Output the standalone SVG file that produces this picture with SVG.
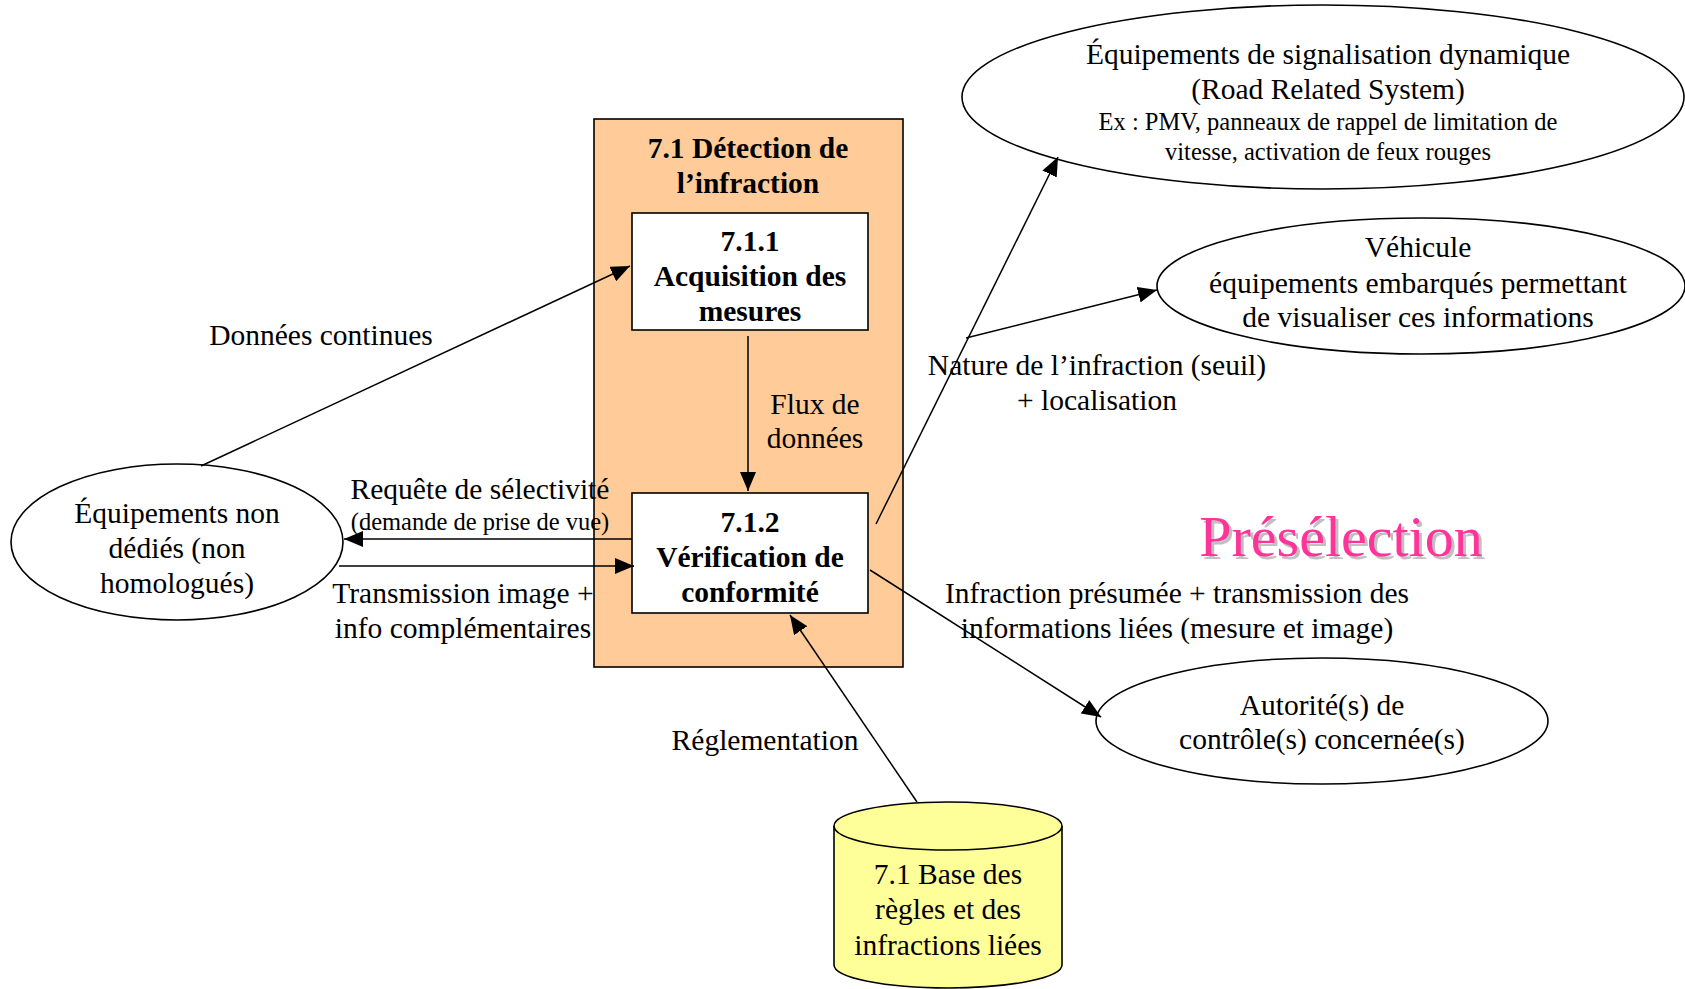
<svg xmlns="http://www.w3.org/2000/svg" width="1685" height="989" viewBox="0 0 1685 989">
  <style>
    .t { font-family: "Liberation Serif", "Times New Roman", serif; font-size: 29.5px; fill: #000; text-anchor: middle; }
    .s { font-size: 24.5px; }
    .b { font-weight: bold; }
    .arrow { fill: none; stroke: #000; stroke-width: 1.5; marker-end: url(#head); }
    .shape { stroke: #000; stroke-width: 1.6; }
    .pink { font-family: "Liberation Serif", "Times New Roman", serif; font-size: 58px; text-anchor: middle; }
  </style>
  <defs>
    <marker id="head" markerUnits="userSpaceOnUse" markerWidth="20" markerHeight="16" refX="19" refY="8" orient="auto">
      <path d="M0,0 L19,8 L0,16 z" fill="#000"/>
    </marker>
  </defs>

  <rect width="1685" height="989" fill="#fff"/>

  <!-- process container -->
  <g id="detection">
    <rect class="shape" x="594" y="119" width="309" height="548" fill="#FFCC99"/>
    <text class="t b" x="748" y="158">7.1 Détection de</text>
    <text class="t b" x="748" y="193">l’infraction</text>
  </g>

  <g id="acquisition">
    <rect class="shape" x="632" y="213" width="236" height="117" fill="#fff"/>
    <text class="t b" x="750" y="251">7.1.1</text>
    <text class="t b" x="750" y="286">Acquisition des</text>
    <text class="t b" x="750" y="321">mesures</text>
  </g>

  <g id="verification">
    <rect class="shape" x="632" y="493" width="236" height="120" fill="#fff"/>
    <text class="t b" x="750" y="532">7.1.2</text>
    <text class="t b" x="750" y="567">Vérification de</text>
    <text class="t b" x="750" y="602">conformité</text>
  </g>

  <g id="equipements-non-dedies">
    <ellipse class="shape" cx="177" cy="542" rx="166" ry="78" fill="#fff"/>
    <text class="t" x="177" y="523">Équipements non</text>
    <text class="t" x="177" y="558">dédiés (non</text>
    <text class="t" x="177" y="593">homologués)</text>
  </g>

  <g id="signalisation">
    <ellipse class="shape" cx="1323" cy="97" rx="361" ry="92" fill="#fff"/>
    <text class="t" x="1328" y="64">Équipements de signalisation dynamique</text>
    <text class="t" x="1328" y="99">(Road Related System)</text>
    <text class="t s" x="1328" y="130">Ex : PMV, panneaux de rappel de limitation de</text>
    <text class="t s" x="1328" y="160">vitesse, activation de feux rouges</text>
  </g>

  <g id="vehicule">
    <ellipse class="shape" cx="1421" cy="286" rx="264" ry="68" fill="#fff"/>
    <text class="t" x="1418" y="257">Véhicule</text>
    <text class="t" x="1418" y="293">équipements embarqués permettant</text>
    <text class="t" x="1418" y="327">de visualiser ces informations</text>
  </g>

  <g id="autorites">
    <ellipse class="shape" cx="1322" cy="721" rx="226" ry="63" fill="#fff"/>
    <text class="t" x="1322" y="715">Autorité(s) de</text>
    <text class="t" x="1322" y="749">contrôle(s) concernée(s)</text>
  </g>

  <g id="base-regles">
    <path class="shape" d="M834,826 L834,965 A114,23 0 0 0 1062,965 L1062,826" fill="#FFFF99"/>
    <ellipse class="shape" cx="948" cy="826" rx="114" ry="24" fill="#FFFF99"/>
    <text class="t" x="948" y="884">7.1 Base des</text>
    <text class="t" x="948" y="919">règles et des</text>
    <text class="t" x="948" y="955">infractions liées</text>
  </g>

  <g id="title">
    <text class="pink" x="1344" y="559" fill="#C0C0C0">Présélection</text>
    <text class="pink" x="1341" y="556" fill="#FF3399">Présélection</text>
  </g>

  <!-- flows -->
  <g id="connectors">
    <line class="arrow" x1="201" y1="466" x2="630" y2="266"/>
    <line class="arrow" x1="748" y1="336" x2="748" y2="491"/>
    <line class="arrow" x1="632" y1="539" x2="344" y2="539"/>
    <line class="arrow" x1="339" y1="566" x2="634" y2="566"/>
    <line class="arrow" x1="876" y1="524" x2="1058" y2="157"/>
    <line class="arrow" x1="966" y1="338" x2="1157" y2="290"/>
    <line class="arrow" x1="870" y1="570" x2="1101" y2="717"/>
    <line class="arrow" x1="917" y1="802" x2="790" y2="615"/>
  </g>

  <g id="labels">
    <text class="t" x="321" y="345">Données continues</text>
    <text class="t" x="815" y="414">Flux de</text>
    <text class="t" x="815" y="448">données</text>
    <text class="t" x="480" y="499">Requête de sélectivité</text>
    <text class="t s" x="480" y="530">(demande de prise de vue)</text>
    <text class="t" x="463" y="603">Transmission image +</text>
    <text class="t" x="463" y="638">info complémentaires</text>
    <text class="t" x="1097" y="375">Nature de l’infraction (seuil)</text>
    <text class="t" x="1097" y="410">+ localisation</text>
    <text class="t" x="1177" y="603">Infraction présumée + transmission des</text>
    <text class="t" x="1177" y="638">informations liées (mesure et image)</text>
    <text class="t" x="765" y="750">Réglementation</text>
  </g>
</svg>
